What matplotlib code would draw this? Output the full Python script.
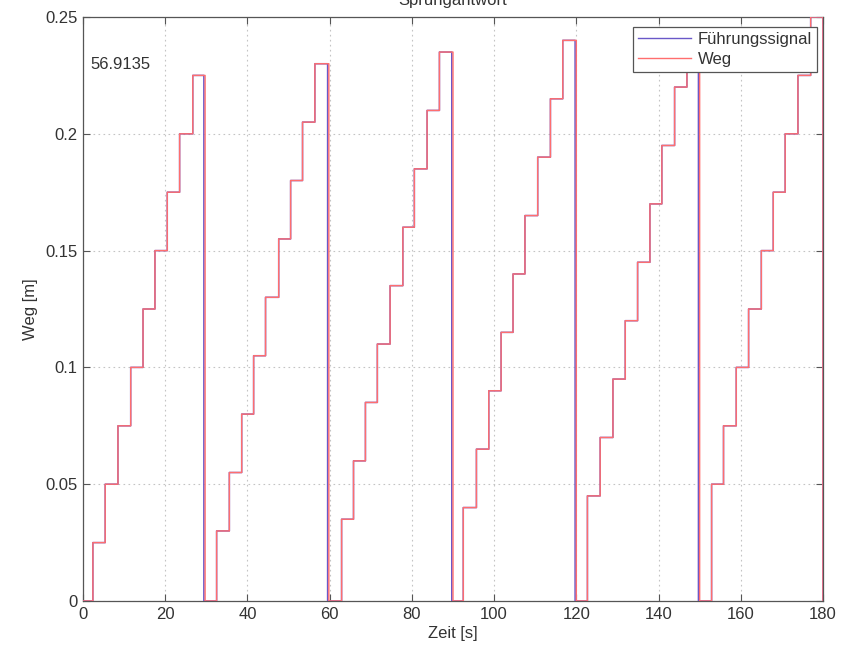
import matplotlib
matplotlib.use("Agg")
import matplotlib.pyplot as plt

plt.rcParams['font.family'] = ['Liberation Sans', 'DejaVu Sans']

# Staircase cycles: times at which the position steps up, level after each step,
# and the time at which the signal falls back to zero.
step_times = [
    [2.4, 5.4, 8.5, 11.6, 14.6, 17.5, 20.5, 23.5, 26.7],
    [32.5, 35.6, 38.6, 41.5, 44.4, 47.6, 50.5, 53.4, 56.4],
    [62.9, 65.8, 68.7, 71.6, 74.7, 77.8, 80.6, 83.7, 86.7],
    [92.5, 95.7, 98.7, 101.7, 104.6, 107.5, 110.6, 113.7, 116.7],
    [122.7, 125.8, 128.9, 131.9, 134.9, 137.9, 140.8, 143.9, 146.9],
    [152.9, 155.8, 158.9, 161.9, 165.0, 167.9, 170.8, 173.9, 177.0],
]
step_levels = [
    [0.025, 0.050, 0.075, 0.100, 0.125, 0.150, 0.175, 0.200, 0.225],
    [0.030, 0.055, 0.080, 0.105, 0.130, 0.155, 0.180, 0.205, 0.230],
    [0.035, 0.060, 0.085, 0.110, 0.135, 0.160, 0.185, 0.210, 0.235],
    [0.040, 0.065, 0.090, 0.115, 0.140, 0.165, 0.190, 0.215, 0.240],
    [0.045, 0.070, 0.095, 0.120, 0.145, 0.170, 0.195, 0.220, 0.245],
    [0.050, 0.075, 0.100, 0.125, 0.150, 0.175, 0.200, 0.225, 0.250],
]
# reset instants of the command signal and of the measured position
ref_reset_times = [29.4, 59.5, 89.7, 119.7, 149.7, 180.0]
weg_reset_times = [29.7, 59.8, 90.0, 120.0, 150.0, 180.0]
t_end = 180.0

xticks = [0, 20, 40, 60, 80, 100, 120, 140, 160, 180]
yticks = [0, 0.05, 0.1, 0.15, 0.2, 0.25]
ytick_labels = ['0', '0.05', '0.1', '0.15', '0.2', '0.25']
annotation = '56.9135'


def staircase(resets):
    t, v = [0.0], [0.0]
    for times, levels, reset in zip(step_times, step_levels, resets):
        for ti, lv in zip(times, levels):
            t.append(ti)
            v.append(lv)
        t.append(reset)
        v.append(0.0)
    t.append(t_end)
    v.append(0.0)
    return t, v


fig = plt.figure(figsize=(8.48, 6.46), dpi=100)
ax = fig.add_axes([83 / 848, 45 / 646, 740 / 848, 584 / 646])

tf, vf = staircase(ref_reset_times)
tw, vw = staircase(weg_reset_times)
ax.plot(tf, vf, drawstyle='steps-post', color='#6a58c8', lw=1.1,
        label='Führungssignal', zorder=3, snap=False)
ax.plot(tw, vw, drawstyle='steps-post', color='#ff6e6e', lw=1.0,
        label='Weg', zorder=4, snap=False)

ax.set_xlim(0, 180)
ax.set_ylim(0, 0.25)
ax.set_xticks(xticks)
ax.set_yticks(yticks)
ax.set_yticklabels(ytick_labels)

ax.grid(True, color='#c4c4c4', linestyle=(0, (1.5, 3)), linewidth=0.8)
ax.set_axisbelow(True)
for s in ax.spines.values():
    s.set_color('#555555')
    s.set_linewidth(0.9)
ax.tick_params(direction='in', length=5, width=0.8, colors='#555555',
               labelcolor='#333333', labelsize=12, top=True, right=True, pad=4)

ax.set_xlabel('Zeit [s]', fontsize=12, color='#333333', labelpad=3)
ax.set_ylabel('Weg [m]', fontsize=12, color='#333333', labelpad=5)

ax.text(1.7, 0.2298, annotation, fontsize=12, color='#333333', va='center', ha='left')

fig.text(0.534, 1 - 5 / 646, 'Sprungantwort', ha='center', va='baseline',
         fontsize=12, color='#333333')

leg = ax.legend(loc='upper right', bbox_to_anchor=(0.992, 0.983), borderaxespad=0,
                fontsize=12, fancybox=False, framealpha=1, edgecolor='#555555',
                handlelength=3.2, handletextpad=0.4, labelspacing=0.3,
                borderpad=0.3)
leg.get_frame().set_linewidth(0.9)
for txt, line in zip(leg.get_texts(), leg.get_lines()):
    txt.set_color('#333333')
    line.set_linewidth(1.0)

fig.savefig('out.png', dpi=100)
